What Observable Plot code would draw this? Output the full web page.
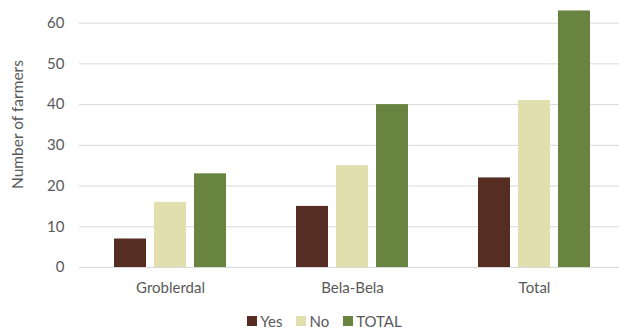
<!DOCTYPE html>
<html>
<head>
<meta charset="utf-8">
<script src="https://cdn.jsdelivr.net/npm/d3@7"></script>
<script src="https://cdn.jsdelivr.net/npm/@observablehq/plot@0.6"></script>
<style>
  html, body { margin: 0; padding: 0; background: #fff; }
  #chart { width: 619px; height: 331px; overflow: hidden; font-family: Lato, "Open Sans", sans-serif; }
  #legend { height: 31px; display: flex; justify-content: center; align-items: center; gap: 14px; padding-left: 30px; padding-top: 10px; box-sizing: border-box; font-size: 15px; color: #595959; }
  .item { display: flex; align-items: center; gap: 3px; }
  .sw { width: 10px; height: 10px; display: inline-block; }
</style>
</head>
<body>
<div id="chart"></div>
<script>
const regions = ["Groblerdal", "Bela-Bela", "Total"];
const series = ["Yes", "No", "TOTAL"];
const yesValues = [7, 15, 22];
const noValues = [16, 25, 41];
const totalValues = [23, 40, 63];
const colors = ["#552D22", "#E2DFAF", "#698340"];
const yTicks = [0, 10, 20, 30, 40, 50, 60];
const yLabel = "Number of farmers";

const valuesBySeries = [yesValues, noValues, totalValues];
const data = [];
regions.forEach((r, i) => {
  series.forEach((s, j) => {
    data.push({region: r, series: s, value: valuesBySeries[j][i]});
  });
});

const chart = Plot.plot({
  width: 619,
  height: 300,
  marginLeft: 79,
  marginRight: -6,
  marginTop: 2.3,
  marginBottom: 33,
  style: {fontFamily: "Lato, 'Open Sans', sans-serif", fontSize: "15px", color: "#595959", background: "#fff"},
  fx: {domain: regions, padding: 0, label: null},
  x: {domain: series, paddingInner: 0.21, paddingOuter: 0.852, axis: null},
  y: {domain: [0, 65], label: null},
  color: {domain: series, range: colors},
  marks: [
    Plot.gridY(yTicks, {stroke: "#d9d9d9", strokeOpacity: 1, strokeWidth: 1}),
    Plot.axisY(yTicks, {tickSize: 0, tickPadding: 15, label: null, fill: "#595959", fontSize: 15}),
    Plot.axisFx({anchor: "bottom", tickSize: 0, tickPadding: 15, label: null, fill: "#595959", fontSize: 15}),
    Plot.barY(data, {fx: "region", x: "series", y: "value", fill: "series"}),
    Plot.text([yLabel], {frameAnchor: "left", textAnchor: "middle", rotate: -90, dx: -61, dy: -10.6, fill: "#595959", fontSize: 15.5, facet: "super"})
  ]
});

const container = document.getElementById("chart");
container.appendChild(chart);
const legend = document.createElement("div");
legend.id = "legend";
series.forEach((s, j) => {
  const item = document.createElement("span");
  item.className = "item";
  const sw = document.createElement("span");
  sw.className = "sw";
  sw.style.background = colors[j];
  item.appendChild(sw);
  item.appendChild(document.createTextNode(s));
  legend.appendChild(item);
});
container.appendChild(legend);
</script>
</body>
</html>
